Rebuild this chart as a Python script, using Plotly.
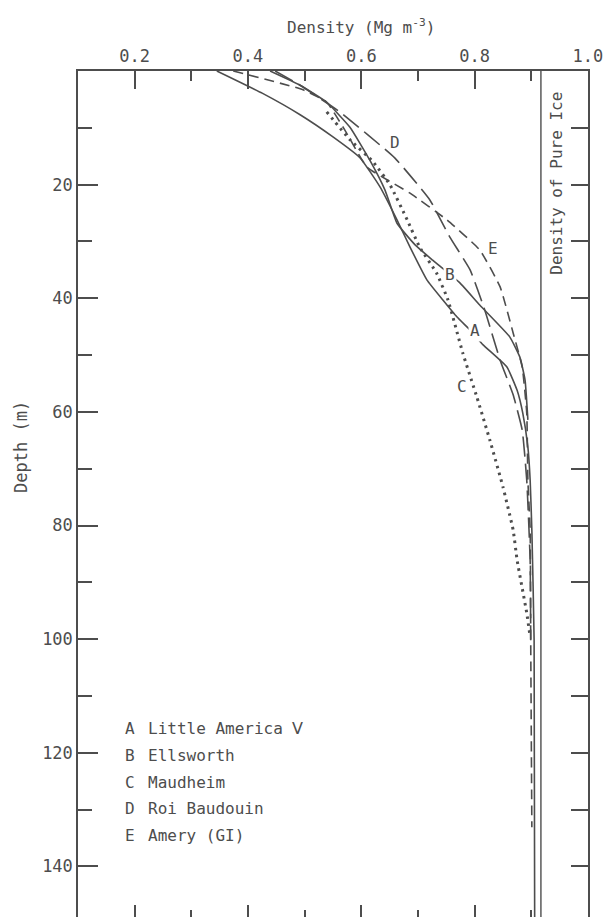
import plotly.graph_objects as go

# Density of pure ice (Mg m^-3)
PURE_ICE = 0.917

# Density-depth profiles (density in Mg m^-3, depth in m)
a_density = [0.345, 0.425, 0.492, 0.550, 0.598, 0.633, 0.663, 0.686, 0.716, 0.744,
             0.769, 0.792, 0.815, 0.857, 0.875, 0.885, 0.894, 0.898, 0.901, 0.905, 0.906]
a_depth = [0.0, 3.9, 7.7, 11.6, 15.3, 20.4, 26.2, 31.0, 36.8, 40.3,
           43.3, 45.6, 48.2, 52.1, 56.2, 60.2, 66.2, 72.0, 80.8, 100.2, 150.0]

b_density = [0.439, 0.492, 0.539, 0.580, 0.615, 0.642, 0.663, 0.695, 0.726, 0.774,
             0.809, 0.862, 0.880, 0.889, 0.894]
b_depth = [0.0, 2.5, 5.5, 9.9, 15.7, 21.0, 26.8, 30.6, 33.3, 37.3,
           41.2, 46.8, 50.4, 54.4, 61.4]

c_density = [0.539, 0.580, 0.621, 0.651, 0.681, 0.703, 0.733, 0.753, 0.779, 0.804,
             0.827, 0.850, 0.868, 0.875, 0.892, 0.898]
c_depth = [7.2, 12.1, 16.0, 20.1, 26.2, 31.0, 35.6, 40.3, 49.6, 57.4,
           65.0, 73.2, 80.8, 86.1, 95.4, 99.6]

d_density = [0.448, 0.492, 0.562, 0.659, 0.721, 0.756, 0.792, 0.818, 0.845, 0.868,
             0.884, 0.892, 0.898, 0.899]
d_depth = [0.0, 2.5, 7.2, 15.3, 22.7, 29.2, 35.0, 42.1, 50.9, 57.0,
           63.2, 72.0, 86.1, 100.2]

e_density = [0.374, 0.497, 0.539, 0.571, 0.610, 0.686, 0.751, 0.809, 0.845, 0.868,
             0.884, 0.892, 0.894, 0.898, 0.899, 0.901]
e_depth = [0.0, 3.3, 5.5, 10.4, 16.9, 21.5, 26.2, 31.5, 38.0, 46.1,
           52.1, 60.2, 72.0, 80.8, 100.2, 133.1]

site_letters = ["A", "B", "C", "D", "E"]
site_names = ["Little America \u2164", "Ellsworth", "Maudheim", "Roi Baudouin", "Amery (GI)"]

# Where each curve letter sits (density, depth)
label_density = [0.800, 0.756, 0.778, 0.659, 0.832]
label_depth = [45.6, 35.9, 55.6, 12.5, 31.2]

# Key rows (depth of each row)
key_depth = [115.7, 120.4, 125.2, 129.8, 134.5]

x_major = [0.2, 0.4, 0.6, 0.8, 1.0]
x_major_text = ["0.2", "0.4", "0.6", "0.8", "1.0"]
x_minor = [0.3, 0.5, 0.7, 0.9]
y_major = [20, 40, 60, 80, 100, 120, 140]
y_minor = [10, 30, 50, 70, 90, 110, 130]
y_right = [10, 20, 30, 40, 50, 60, 70, 80, 90, 100, 110, 120, 130, 140]

X_RANGE = [0.1, 1.0001]
Y_RANGE = [148.9, 0]

INK = "#4d4d4d"
FONT = "DejaVu Sans Mono"

W, H = 605, 917
ML, MR, MT, MB = 78, 17, 71, 0
PW, PH = W - ML - MR, H - MT - MB

profiles = [
    (a_density, a_depth, "solid", 1.6),
    (b_density, b_depth, "solid", 1.6),
    (c_density, c_depth, "2.5px,4.5px", 3.0),
    (d_density, d_depth, "20px,7px", 1.6),
    (e_density, e_depth, "10px,6px", 1.6),
]

fig = go.Figure()

for (dens, dep, dash, lw), letter in zip(profiles, site_letters):
    fig.add_trace(go.Scatter(
        x=dens, y=dep, mode="lines", name=letter,
        line=dict(color=INK, width=lw, dash=dash, shape="spline", smoothing=0.4),
        showlegend=False, hoverinfo="skip",
    ))

# vertical reference line at the density of pure ice
fig.add_trace(go.Scatter(
    x=[PURE_ICE, PURE_ICE], y=[0, 150], mode="lines",
    line=dict(color=INK, width=1.4), showlegend=False, hoverinfo="skip",
))

# carrier trace for the mirrored right / bottom tick axes
fig.add_trace(go.Scatter(x=[None], y=[None], xaxis="x2", yaxis="y2",
                         showlegend=False, hoverinfo="skip"))


def px_to_paper(px, py):
    return (px - ML) / PW, (H - MB - py) / PH


annotations = []
for letter, lx, ly in zip(site_letters, label_density, label_depth):
    ann = dict(x=lx, y=ly, xref="x", yref="y", text=letter, showarrow=False,
               font=dict(family=FONT, size=16, color=INK))
    if letter in ("A", "B"):
        ann["bgcolor"] = "white"
    annotations.append(ann)

for letter, name, kd in zip(site_letters, site_names, key_depth):
    annotations.append(dict(x=0.179, y=kd, xref="x", yref="y", text=letter,
                            showarrow=False, xanchor="left", yanchor="middle",
                            font=dict(family=FONT, size=16, color=INK)))
    annotations.append(dict(x=0.220, y=kd, xref="x", yref="y", text=name,
                            showarrow=False, xanchor="left", yanchor="middle",
                            font=dict(family=FONT, size=16, color=INK)))

annotations.append(dict(x=0.945, y=19.7, xref="x", yref="y",
                        text="Density of Pure Ice", textangle=-90, showarrow=False,
                        xanchor="center", yanchor="middle",
                        font=dict(family=FONT, size=16, color=INK)))

tx, ty = px_to_paper(361, 26)
annotations.append(dict(x=tx, y=ty, xref="paper", yref="paper",
                        text="Density (Mg m<sup>-3</sup>)", showarrow=False,
                        xanchor="center", yanchor="middle",
                        font=dict(family=FONT, size=16, color=INK)))
dx, dy = px_to_paper(21, 447)
annotations.append(dict(x=dx, y=dy, xref="paper", yref="paper",
                        text="Depth (m)", textangle=-90, showarrow=False,
                        xanchor="center", yanchor="middle",
                        font=dict(family=FONT, size=17, color=INK)))

fig.update_layout(
    width=W, height=H,
    margin=dict(l=ML, r=MR, t=MT, b=MB),
    paper_bgcolor="white", plot_bgcolor="white",
    font=dict(family=FONT, color=INK),
    annotations=annotations,
    xaxis=dict(
        range=X_RANGE, side="top", anchor="y",
        showline=True, linecolor=INK, linewidth=1.5, mirror=False,
        ticks="inside", ticklen=18, tickwidth=1.5, tickcolor=INK,
        tickvals=x_major, ticktext=x_major_text,
        tickfont=dict(family=FONT, size=17, color=INK),
        minor=dict(ticks="inside", ticklen=10, tickwidth=1.5, tickcolor=INK,
                   tickvals=x_minor),
        showgrid=False, zeroline=False,
    ),
    xaxis2=dict(
        range=X_RANGE, overlaying="x", side="bottom", anchor="y2",
        showline=False, ticks="inside", ticklen=12, tickwidth=1.5, tickcolor=INK,
        tickvals=x_major[:-1], showticklabels=False,
        minor=dict(ticks="inside", ticklen=7, tickwidth=1.5, tickcolor=INK,
                   tickvals=x_minor),
        showgrid=False, zeroline=False,
    ),
    yaxis=dict(
        range=Y_RANGE, anchor="x",
        showline=True, linecolor=INK, linewidth=1.5, mirror=False,
        ticks="inside", ticklen=20, tickwidth=1.5, tickcolor=INK,
        tickvals=y_major, tickfont=dict(family=FONT, size=17, color=INK),
        minor=dict(ticks="inside", ticklen=14, tickwidth=1.5, tickcolor=INK,
                   tickvals=y_minor),
        showgrid=False, zeroline=False,
    ),
    yaxis2=dict(
        range=Y_RANGE, overlaying="y", side="right", anchor="x2",
        showline=True, linecolor=INK, linewidth=1.5,
        ticks="inside", ticklen=17, tickwidth=1.5, tickcolor=INK,
        tickvals=y_right, showticklabels=False,
        showgrid=False, zeroline=False,
    ),
)

fig.write_html("out.html")
